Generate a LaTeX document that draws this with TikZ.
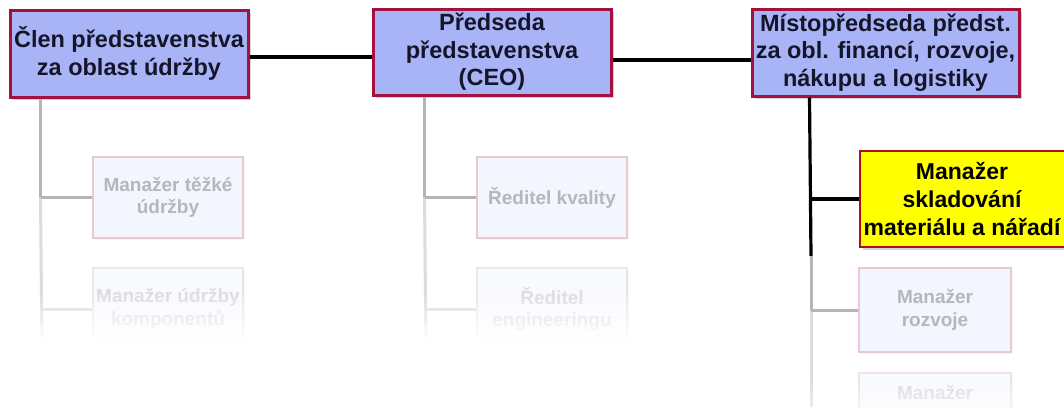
\documentclass[tikz,border=0pt]{standalone}
\usepackage{fontspec}
\setmainfont{Liberation Sans}
\usetikzlibrary{shadows}
\definecolor{topfill}{HTML}{A9B4F6}
\definecolor{topborder}{HTML}{A3113F}
\definecolor{toptext}{HTML}{15152A}
\definecolor{ylwfill}{HTML}{FFFF00}
\definecolor{ylwborder}{HTML}{A5121E}
\definecolor{fadefill}{HTML}{F3F6FE}
\definecolor{fadeborder}{HTML}{ECC8D0}
\definecolor{fadetext}{HTML}{B6B6BF}
\definecolor{fadeline}{HTML}{B5B5B5}
\definecolor{fadetwofill}{HTML}{F9FAFE}
\definecolor{fadetwoborder}{HTML}{F3E2E6}
\definecolor{fadetwotext}{HTML}{DCDCE2}
\definecolor{fadetwoline}{HTML}{DCDCDC}
\begin{document}
\begin{tikzpicture}[x=1pt,y=-1pt,
  every node/.style={inner sep=0pt, align=center},
  topbox/.style={draw=topborder, line width=3pt, fill=topfill, text=toptext,
    font=\bfseries\fontsize{23.5}{27.5}\selectfont,
    drop shadow={shadow xshift=2.5pt, shadow yshift=-2.5pt, opacity=0.35}},
  ylwbox/.style={draw=ylwborder, line width=2.8pt, fill=ylwfill,
    drop shadow={shadow xshift=2.5pt, shadow yshift=-2.5pt, opacity=0.35}},
  ylwtext/.style={text=black, font=\bfseries\fontsize{23}{28}\selectfont},
  fadebox/.style={draw=fadeborder, line width=2pt, fill=fadefill, text=fadetext,
    font=\bfseries\fontsize{19}{22.5}\selectfont,
    drop shadow={shadow xshift=2pt, shadow yshift=-2pt, opacity=0.07}},
  fadetwobox/.style={fadebox, draw=fadetwoborder, fill=fadetwofill, text=fadetwotext},
  mainline/.style={draw=black, line width=3.2pt},
  subline/.style={draw=fadeline, line width=3pt},
  subtwoline/.style={draw=fadetwoline, line width=3pt},
]
\useasboundingbox (0,0) rectangle (1064,407);
\fill[white] (0,0) rectangle (1064,407);

% top row
\node[topbox, minimum width=238pt, minimum height=87pt] (b1) at (129,53.5)
  {Člen představenstva\\za oblast údržby};
\node[topbox, minimum width=238pt, minimum height=86pt] (b2) at (492,52)
  {Předseda\\představenstva\\(CEO)};
\node[topbox, minimum width=267pt, minimum height=87pt] (b3) at (885.5,52.5)
  {Místopředseda předst.\\za obl. financí, rozvoje,\\nákupu a logistiky};

% highlighted box
\node[ylwbox, minimum width=206pt, minimum height=96pt] (y1) at (963,199) {};
\node[ylwtext] (y1t) at (962,199) {Manažer\\skladování\\materiálu a nářadí};

% faded boxes
\node[fadebox, minimum width=150pt, minimum height=81pt] (m1) at (168,197.5)
  {Manažer těžké\\údržby};
\node[fadetwobox, minimum width=150pt, minimum height=82pt] (m2) at (168,309)
  {Manažer údržby\\komponentů};
\node[fadebox, minimum width=150pt, minimum height=81pt] (r1) at (552,197.5)
  {Ředitel kvality};
\node[fadetwobox, minimum width=150pt, minimum height=82pt] (r2) at (552,309)
  {Ředitel\\engineeringu};
\node[fadebox, minimum width=152pt, minimum height=84pt] (d1) at (935,310)
  {Manažer\\rozvoje};
\node[fadetwobox, minimum width=152pt, minimum height=84pt] (d2) at (935,415) {};
\node[text=fadetwotext, font=\bfseries\fontsize{19}{22.5}\selectfont] (d2t) at (935,392) {Manažer};

% coordinates for line ends
\coordinate (v1a) at ([xshift=32pt]b1.south west);
\coordinate (v1e) at (42,350);
\coordinate (v2a) at ([xshift=53pt]b2.south west);
\coordinate (v2e) at (426,350);
\coordinate (v3a) at ([xshift=59pt]b3.south west);
\coordinate (v3b) at (811,256);
\coordinate (v3e) at (811,407);

% top connectors
\draw[mainline] ([yshift=-3.5pt]b1.east) -- ([yshift=-5pt]b2.west);
\draw[mainline] ([yshift=-8pt]b2.east) -- ([yshift=-7.5pt]b3.west);

% right column
\draw[mainline] (v3a) -- (v3b);
\draw[mainline] (y1.west) -- (y1.west -| v3a);
\draw[subline] (v3b) -- (v3b |- d1.west);
\draw[subtwoline] (v3b |- d1.west) -- (v3e);
\draw[subline] (d1.west) -- (d1.west -| v3b);

% left column
\draw[subline] (v1a) -- (v1a |- m1.west);
\draw[subtwoline] (v1a |- m1.west) -- (v1e);
\draw[subline] (m1.west) -- (m1.west -| v1a);
\draw[subtwoline] (m2.west) -- (m2.west -| v1a);

% middle column
\draw[subline] (v2a) -- (v2a |- r1.west);
\draw[subtwoline] (v2a |- r1.west) -- (v2e);
\draw[subline] (r1.west) -- (r1.west -| v2a);
\draw[subtwoline] (r2.west) -- (r2.west -| v2a);

% fading to white at the bottom
\foreach \i in {0,...,16} {
  \fill[white, opacity=\i/16] (0,{292+\i*3}) rectangle (770,{295+\i*3});
}
\fill[white] (0,343) rectangle (770,407);
\foreach \i in {0,...,9} {
  \fill[white, opacity=\i/18] (770,{378+\i*3}) rectangle (1064,{381+\i*3});
}
\end{tikzpicture}
\end{document}
